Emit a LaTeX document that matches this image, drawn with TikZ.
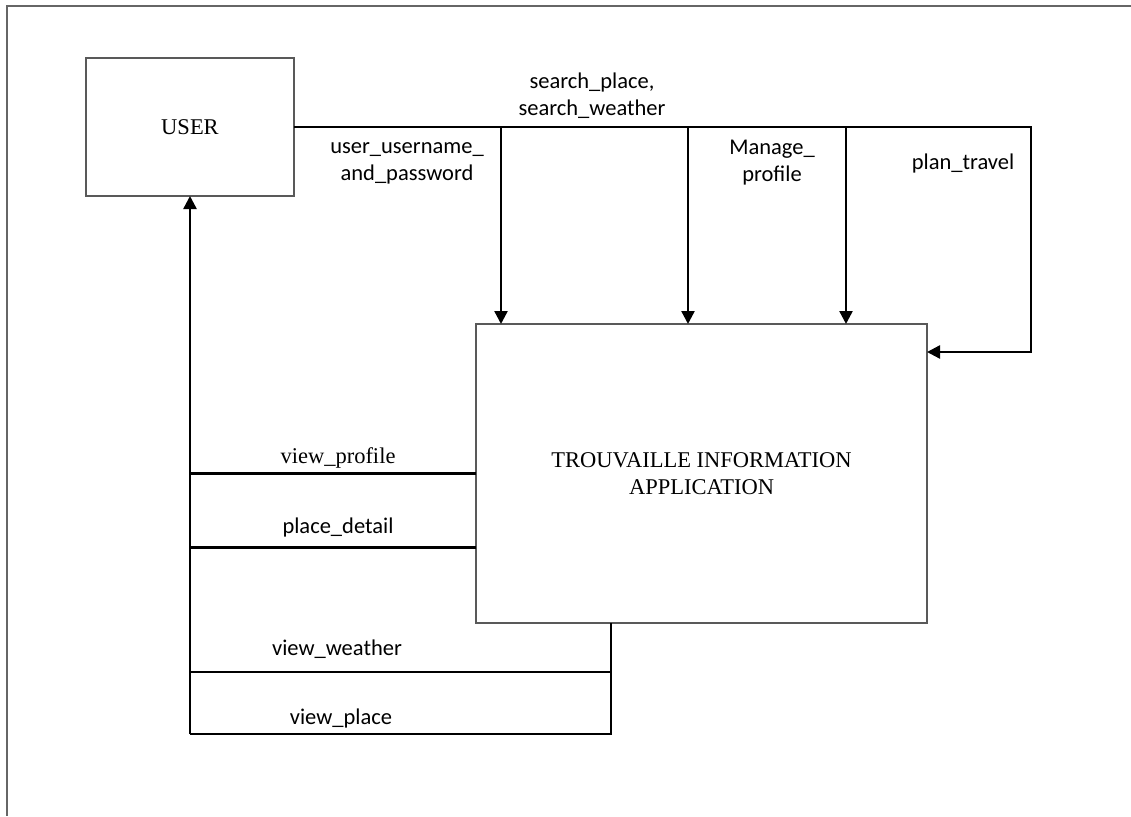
\documentclass[tikz,border=0pt]{standalone}
\usepackage{fontspec}
\setmainfont{Liberation Serif}
\newfontfamily\calib{Carlito}
\usetikzlibrary{arrows.meta}

\begin{document}
\begin{tikzpicture}[x=1pt, y=-1pt,
    entity/.style={rectangle, draw=black!65, line width=1.3pt, outer sep=0pt, inner sep=0pt, font=\fontsize{22.5}{27}\selectfont, align=center},
    flow/.style={draw=black, line width=2.4pt},
    arrow/.style={flow, -{Triangle[width=13pt, length=13pt]}},
    label/.style={font=\fontsize{22.5}{27}\selectfont\calib, align=center, inner sep=0pt},
    serlabel/.style={font=\fontsize{22.5}{27}\selectfont, align=center, inner sep=0pt}
]
    \useasboundingbox (0,0) rectangle (1131,816);
    \draw[black!60, line width=1.3pt] (1131,6) -- (7,6) -- (7,816);

    % Entities
    \node[entity, minimum width=208pt, minimum height=138pt] (user) at (190,127) {USER};
    \node[entity, minimum width=451pt, minimum height=299pt] (app) at (701.5,473.5) {TROUVAILLE INFORMATION\\APPLICATION};

    % Inputs to the application
    \coordinate (turn) at (1031,127);
    \draw[arrow] (user.east) -| ([xshift=25pt]app.north west);
    \draw[arrow] (user.east) -| ([xshift=212pt]app.north west);
    \draw[arrow] (user.east) -| ([xshift=370pt]app.north west);
    \draw[arrow] (user.east) -- (turn) |- ([yshift=-28pt]app.north east);
    \node[label] (search) at (592,96) {search\_place,\\search\_weather};
    \node[label] (login) at (407,163) {user\_username\_\\and\_password};
    \node[label] (manage) at (772,163) {Manage\_\\profile};
    \node[label] (plan) at (963,163) {plan\_travel};

    % Outputs back to the user
    \coordinate (vw) at (611,672);
    \coordinate (vp) at (611,734);
    \coordinate (corner) at (user.south |- vp);
    \draw[flow] (app.west) -- (app.west -| corner);
    \draw[flow] ([yshift=-74pt]app.west) -- ([yshift=-74pt]app.west -| corner);
    \draw[flow] ([xshift=135pt]app.south west) -- (vp) -- (corner);
    \draw[flow] (vw) -- (vw -| corner);
    \draw[arrow] (corner) -- (user.south);
    \node[serlabel] (profile) at (338,458) {view\_profile};
    \node[label] (detail) at (338,527) {place\_detail};
    \node[label] (weather) at (337,649) {view\_weather};
    \node[label] (place) at (341,718) {view\_place};
\end{tikzpicture}
\end{document}
